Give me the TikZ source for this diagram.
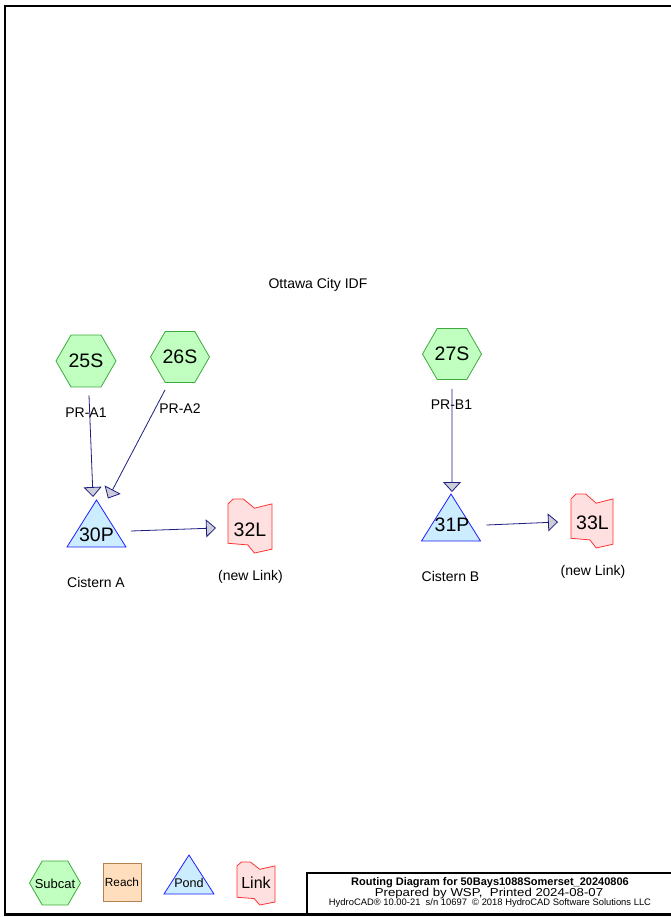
\documentclass[tikz,border=0pt]{standalone}
\usepackage{fontspec}
\usepackage{graphicx}
\setmainfont{Liberation Sans}
\usetikzlibrary{shapes.geometric,arrows.meta,calc}
\definecolor{hexfill}{RGB}{192,255,192}
\definecolor{hexline}{RGB}{60,170,60}
\definecolor{pondfill}{RGB}{204,236,255}
\definecolor{pondline}{RGB}{30,30,255}
\definecolor{linkfill}{RGB}{255,224,224}
\definecolor{linkline}{RGB}{255,50,50}
\definecolor{reachfill}{RGB}{255,222,190}
\definecolor{reachline}{RGB}{180,130,80}
\definecolor{flowline}{RGB}{30,30,130}
\definecolor{tipfill}{RGB}{205,205,215}
\newcommand\linkshape[3]{%
  \draw[linkst, shift={(#1.north west)}, x=#2pt, y=-#3pt]
    (0,0.09) -- (0.12,0) -- (0.35,0) -- (0.6,0.17) -- (1,0.09) --
    (1,0.93) -- (0.6,1) -- (0.45,0.85) -- (0,0.82) -- cycle;}
\newcommand\pondshape[1]{%
  \draw[pondst] (#1.north) -- (#1.south east) -- (#1.south west) -- cycle;}
\begin{document}
\begin{tikzpicture}[x=1pt,y=-1pt,
  hexnode/.style={regular polygon, regular polygon sides=6, minimum size=#1,
    inner sep=0pt, draw=hexline, fill=hexfill, line width=0.8pt},
  box/.style={rectangle, inner sep=0pt, outer sep=0pt},
  pondst/.style={draw=pondline, fill=pondfill, line width=0.8pt, line join=miter},
  linkst/.style={draw=linkline, fill=linkfill, line width=0.8pt, line join=miter},
  big/.style={font=\fontsize{19.5}{22}\selectfont, inner sep=0pt},
  lbl/.style={font=\fontsize{14}{16}\selectfont, inner sep=0pt, anchor=base},
  flow/.style={draw=flowline, line width=0.8pt,
    -{Triangle[length=10pt,width=18pt,fill=tipfill,line join=miter]}},
  frame/.style={line width=2.6pt, draw=black}
]
\useasboundingbox (0,0) rectangle (671,917);
\fill[white] (0,0) rectangle (671,917);

% frame and title block
\draw[frame] (671,6) -- (5,6) -- (5,914.5) -- (671,914.5);
\draw[line width=2pt] (671,873) -- (306.5,873) -- (306.5,914.5);
\node[box, anchor=base, font=\bfseries\fontsize{11}{13}\selectfont] (t1) at (490,885)
  {Routing Diagram for 50Bays1088Somerset\_20240806};
\node[box, anchor=base, font=\fontsize{11.5}{13}\selectfont] (t2) at (489,896)
  {\scalebox{1.15}[1]{Prepared by WSP,\ \ Printed 2024-08-07}};
\node[box, anchor=base, font=\fontsize{9.4}{11}\selectfont] (t3) at (490,905.5)
  {HydroCAD® 10.00-21\ \ s/n 10697\ \ © 2018 HydroCAD Software Solutions LLC};

% title
\node[lbl] (idf) at (318,288) {Ottawa City IDF};

% subcatchments
\node[hexnode=60pt, big] (s25) at (86,361) {25S};
\node[hexnode=59pt, big] (s26) at (180,357) {26S};
\node[hexnode=59pt, big] (s27) at (452,354) {27S};
\node[lbl] (s25l) at (86,417) {PR-A1};
\node[lbl] (s26l) at (180,413) {PR-A2};
\node[lbl] (s27l) at (451.5,409) {PR-B1};

% ponds
\node[box, minimum width=59pt, minimum height=47pt] (p30) at (96.5,523.5) {};
\pondshape{p30}
\node[big] (p30t) at (96.5,534.5) {30P};
\node[lbl] (p30l) at (96,587) {Cistern A};
\node[box, minimum width=59pt, minimum height=47pt] (p31) at (451,517.5) {};
\pondshape{p31}
\node[big] (p31t) at (452,525) {31P};
\node[lbl] (p31l) at (450.5,581) {Cistern B};

% links
\node[box, minimum width=44pt, minimum height=54pt] (l32) at (250,526) {};
\linkshape{l32}{44}{54}
\node[big] (l32t) at (250,529.5) {32L};
\node[lbl] (l32l) at (250.5,580) {(new Link)};
\node[box, minimum width=42pt, minimum height=54pt] (l33) at (592,521) {};
\linkshape{l33}{42}{54}
\node[big] (l33t) at (592.5,522.5) {33L};
\node[lbl] (l33l) at (593,575) {(new Link)};

% connectors
\draw[flow] ($(s25.south)+(3,8)$) -- ($(p30.north)+(-3.5,-3)$);
\draw[flow] ($(s26.south)+(-15,7)$) -- ($(p30.north)+(11.5,-1.5)$);
\draw[flow] ($(p30.east)+(5,7.5)$) -- ($(l32.west)+(-12,2)$);
\draw[flow] ($(s27.south)+(0,9)$) -- ($(p31.north)+(1,-2)$);
\draw[flow] ($(p31.east)+(6,7.5)$) -- ($(l33.west)+(-13,1)$);

% legend
\node[hexnode=51pt] (legS) at (55,883) {};
\node[inner sep=0pt, font=\fontsize{13}{15}\selectfont] (legSt) at (55,883.5) {Subcat};
\node[box, minimum size=38pt, draw=reachline, fill=reachfill, line width=0.8pt,
  font=\fontsize{11.8}{14}\selectfont] (legR) at (122,882) {Reach};
\node[box, minimum width=50pt, minimum height=39pt] (legP) at (189,874.5) {};
\pondshape{legP}
\node[inner sep=0pt, font=\fontsize{12.6}{14}\selectfont] (legPt) at (189,883) {Pond};
\node[box, minimum width=38pt, minimum height=43pt] (legL) at (256,883.5) {};
\linkshape{legL}{38}{43}
\node[inner sep=0pt, font=\fontsize{16}{18}\selectfont] (legLt) at (256,883) {Link};
\end{tikzpicture}
\end{document}
